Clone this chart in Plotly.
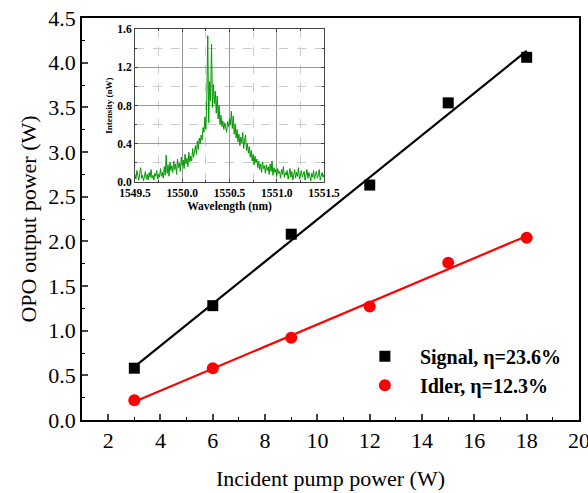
import numpy as np
import plotly.graph_objects as go

# Main data
pump = [3, 6, 9, 12, 15, 18]
signal = [0.58, 1.28, 2.08, 2.63, 3.55, 4.06]
idler = [0.22, 0.58, 0.92, 1.27, 1.76, 2.04]

# Inset spectrum (wavelength start/step, intensity values)
wl_start = 1549.50
wl_step = 0.01
intensity = [
    0.08, 0.03, 0.12, 0.05, 0.02, 0.09, 0.15, 0.04, 0.07, 0.01,
    0.06, 0.11, 0.03, 0.08, 0.02, 0.10, 0.05, 0.13, 0.04, 0.07,
    0.02, 0.09, 0.06, 0.12, 0.03, 0.08, 0.05, 0.14, 0.06, 0.10,
    0.04, 0.16, 0.07, 0.28, 0.09, 0.18, 0.06, 0.21, 0.12, 0.17,
    0.10, 0.22, 0.13, 0.19, 0.08, 0.24, 0.15, 0.20, 0.11, 0.26,
    0.17, 0.23, 0.14, 0.29, 0.19, 0.25, 0.16, 0.31, 0.21, 0.27,
    0.22, 0.35, 0.26, 0.31, 0.38, 0.29, 0.43, 0.34, 0.46, 0.40,
    0.49, 0.44, 0.57, 0.52, 0.68, 0.55, 0.88, 1.53, 0.62, 1.05,
    0.85, 1.44, 0.78, 1.02, 0.82, 0.95, 0.72, 0.90, 0.66, 0.80,
    0.60, 0.70, 0.58, 0.64, 0.55, 0.62, 0.57, 0.52, 0.63, 0.58,
    0.66, 0.60, 0.74, 0.56, 0.69, 0.50, 0.61, 0.46, 0.55, 0.42,
    0.50, 0.38, 0.47, 0.41, 0.52, 0.35, 0.44, 0.49, 0.33, 0.40,
    0.30, 0.37, 0.26, 0.33, 0.22, 0.29, 0.18, 0.27, 0.20, 0.24,
    0.15, 0.22, 0.13, 0.19, 0.10, 0.21, 0.14, 0.17, 0.09, 0.18,
    0.12, 0.16, 0.08, 0.19, 0.11, 0.22, 0.07, 0.15, 0.10, 0.13,
    0.06, 0.14, 0.09, 0.11, 0.04, 0.13, 0.08, 0.16, 0.05, 0.10,
    0.07, 0.12, 0.03, 0.09, 0.14, 0.05, 0.11, 0.02, 0.08, 0.13,
    0.04, 0.10, 0.06, 0.15, 0.03, 0.09, 0.12, 0.05, 0.08, 0.11,
    0.02, 0.07, 0.13, 0.04, 0.10, 0.06, 0.01, 0.09, 0.05, 0.12,
    0.03, 0.08, 0.11, 0.04, 0.07, 0.13, 0.02, 0.06, 0.10, 0.05,
    0.08,
]
wavelength = [wl_start + i * wl_step for i in range(len(intensity))]

inset_xticks = [1549.5, 1550.0, 1550.5, 1551.0, 1551.5]
inset_yticks = [0.0, 0.4, 0.8, 1.2, 1.6]

FONT = "Liberation Serif, Times New Roman, serif"

fig = go.Figure()

# Linear fits
xf = np.array([pump[0], pump[-1]])
ps = np.polyfit(pump, signal, 1)
pi = np.polyfit(pump, idler, 1)
fig.add_trace(go.Scatter(x=xf, y=np.polyval(ps, xf), mode="lines",
                         line=dict(color="black", width=2.2), showlegend=False))
fig.add_trace(go.Scatter(x=xf, y=np.polyval(pi, xf), mode="lines",
                         line=dict(color="#ff0000", width=2.2), showlegend=False))

fig.add_trace(go.Scatter(x=pump, y=signal, mode="markers", name="<b>Signal, η=23.6%</b>",
                         marker=dict(symbol="square", size=11, color="black")))
fig.add_trace(go.Scatter(x=pump, y=idler, mode="markers", name="<b>Idler, η=12.3%</b>",
                         marker=dict(symbol="circle", size=12, color="#ff0000")))

# Inset spectrum
fig.add_trace(go.Scatter(x=wavelength, y=intensity, mode="lines", xaxis="x2", yaxis="y2",
                         line=dict(color="#009900", width=1), showlegend=False))

fig.update_layout(
    width=588, height=493,
    margin=dict(l=82, r=9, t=18, b=73, autoexpand=False),
    paper_bgcolor="white", plot_bgcolor="white",
    font=dict(family=FONT, color="black"),
    xaxis=dict(range=[1, 20], tick0=0, dtick=2, ticks="inside", ticklen=6, tickwidth=1.5,
               showline=True, linecolor="black", linewidth=1.5, mirror=True,
               showgrid=False, zeroline=False, automargin=False, ticklabeloverflow="allow",
               tickfont=dict(size=22, family=FONT),
               minor=dict(dtick=1, ticks="inside", ticklen=3, tickwidth=1.2, tickcolor="black"),
               title=dict(text="Incident pump power (W)", font=dict(size=22, family=FONT), standoff=18)),
    yaxis=dict(range=[0, 4.5], dtick=0.5, tickformat=".1f", ticks="inside", ticklen=6, tickwidth=1.5,
               showline=True, linecolor="black", linewidth=1.5, mirror=True,
               showgrid=False, zeroline=False, automargin=False, ticklabeloverflow="allow",
               tickfont=dict(size=22, family=FONT),
               minor=dict(dtick=0.25, ticks="inside", ticklen=3, tickwidth=1.2, tickcolor="black"),
               title=dict(text="OPO output power (W)", font=dict(size=22, family=FONT), standoff=6)),
    xaxis2=dict(domain=[0.1066, 0.4869], anchor="y2", range=[1549.5, 1551.5],
                tickvals=inset_xticks, ticktext=[f"<b>{v:.1f}</b>" for v in inset_xticks],
                ticks="inside", ticklen=3, mirror="allticks",
                showline=True, linecolor="#444", linewidth=1,
                showgrid=True, gridcolor="#999", gridwidth=1, zeroline=False,
                tickfont=dict(size=11.5, family=FONT),
                minor=dict(dtick=0.25, showgrid=True, gridcolor="#ccc", griddash="dash",
                           ticks="inside", ticklen=2),
                title=dict(text="<b>Wavelength (nm)</b>", font=dict(size=11.5, family=FONT), standoff=4)),
    yaxis2=dict(domain=[0.592, 0.9726], anchor="x2", range=[0, 1.6],
                tickvals=inset_yticks, ticktext=[f"<b>{v:.1f}</b>" for v in inset_yticks],
                ticks="inside", ticklen=3, mirror="allticks",
                showline=True, linecolor="#444", linewidth=1,
                showgrid=True, gridcolor="#999", gridwidth=1, zeroline=False,
                tickfont=dict(size=11.5, family=FONT),
                minor=dict(dtick=0.2, showgrid=True, gridcolor="#ccc", griddash="dash",
                           ticks="inside", ticklen=2),
                title=dict(text="<b>Intensity (nW)</b>", font=dict(size=9, family=FONT), standoff=3)),
    legend=dict(x=0.539, y=0.207, xanchor="left", yanchor="top",
                bgcolor="rgba(0,0,0,0)", font=dict(size=20, family=FONT),
                itemwidth=60, tracegroupgap=0),
)

fig.write_html("out.html", config={"displayModeBar": False},
               post_script="document.body.style.margin='0';document.body.style.overflow='hidden';")
